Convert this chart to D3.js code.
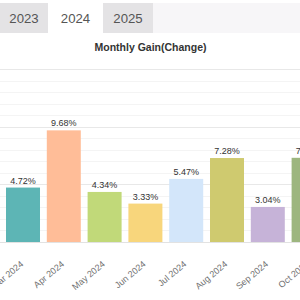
<!DOCTYPE html>
<html><head><meta charset="utf-8">
<script src="https://cdn.jsdelivr.net/npm/d3@7"></script>
<style>
html,body{margin:0;padding:0;background:#fff;overflow:hidden;}
svg{display:block;font-family:"Liberation Sans",Arial,sans-serif;}
</style></head>
<body>
<svg id="c" width="300" height="300"></svg>
<script>
const tabs = ["2023","2024","2025"];
const activeTab = "2024";
const title = "Monthly Gain(Change)";
const months = ["Mar 2024","Apr 2024","May 2024","Jun 2024","Jul 2024","Aug 2024","Sep 2024","Oct 2024"];
const gains = [4.72, 9.68, 4.34, 3.33, 5.47, 7.28, 3.04, 7.30];
const colors = ["#5db5b5","#ffbd98","#c1d979","#f8d67c","#d3e6fa","#cfca6f","#c6b3d8","#9db67f"];
const yTicks = d3.range(0, 16, 1);

const svg = d3.select("#c");

// tab strip
svg.append("rect").attr("x",0).attr("y",3).attr("width",300).attr("height",30).attr("fill","#f7f6f8");
const tabX = d3.scaleOrdinal().domain(tabs).range([[0,48],[48,103],[103,153]]);
tabs.forEach(t=>{
  const [a,b] = tabX(t);
  svg.append("rect").attr("x",a).attr("y",3).attr("width",b-a).attr("height",30)
    .attr("fill", t===activeTab ? "#ffffff" : "#e4e3e5");
  svg.append("text").attr("x",(a+b)/2).attr("y",22.8).attr("text-anchor","middle")
    .attr("font-size",13.2).attr("fill","#555").text(t);
});

// title
svg.append("text").attr("x",150.5).attr("y",51).attr("text-anchor","middle")
  .attr("font-size",10.5).attr("font-weight","bold").attr("fill","#333").text(title);

const x = d3.scaleBand().domain(months).range([2.6, 2.6+40.8*months.length])
  .paddingInner(0.1667).paddingOuter(0.0833);
const y = d3.scaleLinear().domain([0,15]).range([242,69]);

// grid
svg.append("g").selectAll("line").data(yTicks).join("line")
  .attr("x1",0).attr("x2",300).attr("y1",d=>Math.round(y(d))+0.5).attr("y2",d=>Math.round(y(d))+0.5)
  .attr("stroke",d=> d===0 ? "#e2e2e2" : (d%5===0 ? "#e8e8e8" : "#f4f4f4")).attr("stroke-width",1);

// bars
svg.append("g").selectAll("rect").data(months).join("rect")
  .attr("x",d=>x(d)).attr("width",x.bandwidth())
  .attr("y",(d,i)=>y(gains[i])).attr("height",(d,i)=>y(0)-y(gains[i]))
  .attr("fill",(d,i)=>colors[i]);

// value labels
svg.append("g").selectAll("text").data(months).join("text")
  .attr("x",d=>x(d)+x.bandwidth()/2).attr("y",(d,i)=>y(gains[i])-4)
  .attr("text-anchor","middle").attr("font-size",9).attr("fill","#333")
  .text((d,i)=>gains[i].toFixed(2)+"%");

// x axis labels
const xa = svg.append("g").attr("transform","translate(0,242)")
  .call(d3.axisBottom(x).tickSize(0).tickPadding(0));
xa.select(".domain").remove();
xa.selectAll(".tick text")
  .attr("font-size",9).attr("fill","#707070").attr("font-family","Liberation Sans, Arial, sans-serif")
  .attr("text-anchor","end").attr("dy",0).attr("y",0)
  .attr("transform","translate(1,23) rotate(-40)");
</script>
</body></html>
